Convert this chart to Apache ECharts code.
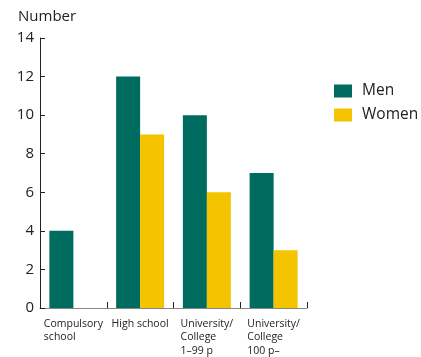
<!DOCTYPE html>
<html><head><meta charset="utf-8">
<script src="https://cdn.jsdelivr.net/npm/echarts@6/dist/echarts.min.js"></script>
<style>html,body{margin:0;padding:0;background:#fff}#c{width:421px;height:357px}</style>
</head><body><div id="c"></div>
<script>
const categories = ["Compulsory\nschool", "High school", "University/\nCollege\n1–99 p", "University/\nCollege\n100 p–"];
const men = [4, 12, 10, 7];
const women = [0, 9, 6, 3];
const yTicks = [0, 2, 4, 6, 8, 10, 12, 14];
const seriesNames = ["Men", "Women"];

const chart = echarts.init(document.getElementById('c'));
const font = "'Open Sans', 'Noto Sans', sans-serif";
chart.setOption({
  animation: false,
  textStyle: {fontFamily: font},
  grid: {left: 40, top: 38, right: 114, bottom: 49, containLabel: false, outerBoundsMode: 'none'},
  title: {text: 'Number', left: 13, top: 4, textStyle: {fontFamily: font, fontSize: 15, fontWeight: 'normal', color: '#222'}},
  legend: {
    orient: 'vertical', left: 329, top: 78, itemWidth: 18, itemHeight: 13, itemGap: 8,
    icon: 'rect', textStyle: {fontFamily: font, fontSize: 15.5, color: '#222', padding: [0, 0, 0, 5]},
    data: seriesNames
  },
  xAxis: {
    type: 'category', data: categories,
    axisLine: {lineStyle: {color: '#888', width: 1}},
    axisTick: {show: true, inside: true, length: 6, lineStyle: {color: '#222'}},
    axisLabel: {
      interval: 0, margin: 9, fontSize: 10.5, color: '#222', lineHeight: 13.5, align: 'center',
      formatter: v => v.split('\n').map(s => '{l|' + s + '}').join('\n'),
      rich: {l: {align: 'left', fontSize: 10.5, lineHeight: 13.5, color: '#222', fontFamily: font}}
    }
  },
  yAxis: {
    type: 'value', min: 0, max: 14, interval: 2,
    axisLine: {show: true, lineStyle: {color: '#222', width: 1}},
    axisTick: {show: true, inside: true, length: 5, lineStyle: {color: '#222'}},
    splitLine: {show: false},
    axisLabel: {fontSize: 15, color: '#222', margin: 6,
      formatter: v => yTicks.includes(v) ? String(v) : ''}
  },
  series: [
    {name: seriesNames[0], type: 'bar', data: men, barWidth: 24, barGap: '0%', itemStyle: {color: '#006B5F'}},
    {name: seriesNames[1], type: 'bar', data: women, barWidth: 24, barGap: '0%', itemStyle: {color: '#F5C400'}}
  ]
});
</script></body></html>
